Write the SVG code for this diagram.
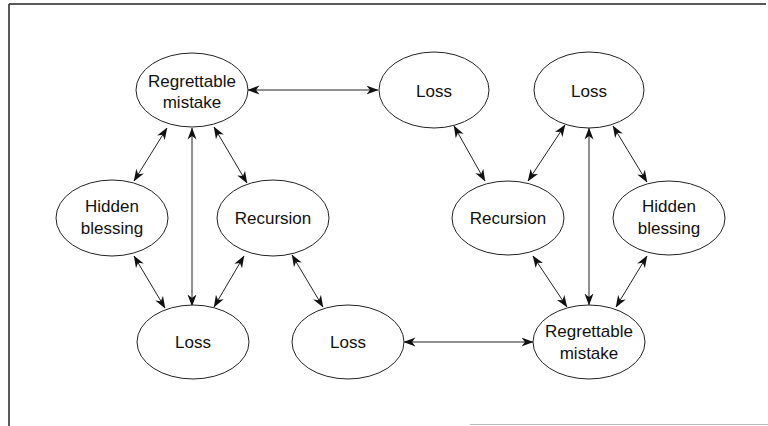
<svg xmlns="http://www.w3.org/2000/svg" width="768" height="426" viewBox="0 0 768 426">
<style>
.n ellipse{fill:#fff;stroke:#222;stroke-width:1}
.n text{font-family:"Liberation Sans",Arial,Helvetica,sans-serif;font-size:17px;fill:#111;text-anchor:middle}
.e line{stroke:#222;stroke-width:1;marker-start:url(#a);marker-end:url(#a)}
</style>
<defs>
<marker id="a" viewBox="0 0 12 10" refX="11.5" refY="5" markerWidth="12" markerHeight="10" markerUnits="userSpaceOnUse" orient="auto-start-reverse">
<path d="M0,0.5 L12,5 L0,9.5 L3.5,5 z" fill="#111"/>
</marker>
</defs>
<rect width="768" height="426" fill="#fff"/>
<g id="frame" stroke="#222" fill="none">
<line x1="9" y1="4" x2="766" y2="4" stroke-width="1.5"/>
<line x1="9" y1="4" x2="9" y2="426" stroke-width="1.5"/>
<line x1="470" y1="424.5" x2="768" y2="424.5" stroke="#bbb" stroke-width="1"/>
</g>
<g id="edges" class="e">
<line x1="248" y1="90" x2="378" y2="90"/>
<line x1="167" y1="128" x2="134" y2="181"/>
<line x1="192" y1="128" x2="192" y2="306"/>
<line x1="214" y1="127" x2="247" y2="183"/>
<line x1="134" y1="256" x2="165" y2="308"/>
<line x1="244" y1="256" x2="214" y2="307"/>
<line x1="292" y1="255" x2="323" y2="307"/>
<line x1="404" y1="342" x2="533" y2="342"/>
<line x1="454" y1="126" x2="485" y2="181"/>
<line x1="565" y1="125" x2="528" y2="181"/>
<line x1="589" y1="128" x2="589" y2="305"/>
<line x1="613" y1="126" x2="647" y2="182"/>
<line x1="533" y1="256" x2="567" y2="307"/>
<line x1="647" y1="256" x2="616" y2="307"/>
</g>
<g id="rm1" class="n"><ellipse cx="192" cy="90" rx="56" ry="37"/><text x="192" y="87">Regrettable</text><text x="192" y="108">mistake</text></g>
<g id="loss1" class="n"><ellipse cx="434" cy="90" rx="55" ry="38"/><text x="434" y="97">Loss</text></g>
<g id="loss2" class="n"><ellipse cx="589" cy="90" rx="55" ry="38"/><text x="589" y="97">Loss</text></g>
<g id="hb1" class="n"><ellipse cx="112" cy="218" rx="56" ry="38"/><text x="112" y="212">Hidden</text><text x="112" y="234">blessing</text></g>
<g id="rec1" class="n"><ellipse cx="273" cy="218" rx="56" ry="38"/><text x="273" y="224">Recursion</text></g>
<g id="rec2" class="n"><ellipse cx="508" cy="218" rx="56" ry="37"/><text x="508" y="224">Recursion</text></g>
<g id="hb2" class="n"><ellipse cx="669" cy="218" rx="56" ry="37"/><text x="669" y="212">Hidden</text><text x="669" y="234">blessing</text></g>
<g id="loss3" class="n"><ellipse cx="193" cy="342" rx="56" ry="37"/><text x="193" y="348">Loss</text></g>
<g id="loss4" class="n"><ellipse cx="348" cy="342" rx="56" ry="37"/><text x="348" y="348">Loss</text></g>
<g id="rm2" class="n"><ellipse cx="589" cy="342" rx="56" ry="37"/><text x="589" y="337">Regrettable</text><text x="589" y="359">mistake</text></g>
</svg>
